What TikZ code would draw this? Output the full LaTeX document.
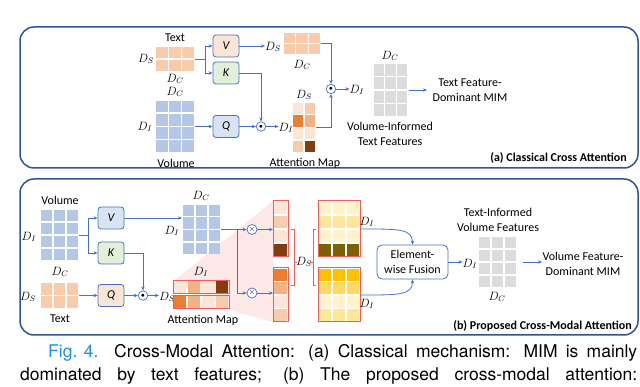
\documentclass[tikz,border=0pt]{standalone}
\usepackage{fontspec}
\setmainfont{Carlito}
\newfontfamily\capfont{TeX Gyre Heros}
\usetikzlibrary{arrows.meta,calc}
\definecolor{ablue}{HTML}{4472C4}
\definecolor{pnl}{HTML}{2F5597}
\definecolor{cor}{HTML}{F8CBAD}
\definecolor{cblu}{HTML}{B4C7E7}
\definecolor{cgry}{HTML}{DCDCDC}
\definecolor{co1}{HTML}{FBE5D6}
\definecolor{co2}{HTML}{F8CBAD}
\definecolor{co3}{HTML}{F4B183}
\definecolor{co4}{HTML}{ED7D31}
\definecolor{co5}{HTML}{843C0C}
\definecolor{cy1}{HTML}{FFF2CC}
\definecolor{cy2}{HTML}{FFE699}
\definecolor{cy3}{HTML}{FFD966}
\definecolor{cy4}{HTML}{FFC000}
\definecolor{cy5}{HTML}{7F6000}
\definecolor{bfill}{HTML}{DAE3F3}
\definecolor{gfill}{HTML}{E2F0D9}
\definecolor{ofill}{HTML}{FBE5D6}
\definecolor{rbd}{HTML}{F25C5C}
\definecolor{wedgec}{HTML}{FDE8E8}
\definecolor{figblue}{HTML}{1F8FE0}
% uniform grid: [opt]{name}{x0}{y0}{x1}{y1}{ncols}{nrows}{color}
\newcommand\unigrid[9][]{%
  \pgfmathsetmacro\cgw{(#5-#3)/#7}\pgfmathsetmacro\cgh{(#6-#4)/#8}%
  \foreach \ci in {1,...,#7}{\foreach \cj in {1,...,#8}{%
    \fill[#9] ({#3+(\ci-1)*\cgw+0.75},{#4+(\cj-1)*\cgh+0.75}) rectangle ({#3+\ci*\cgw-0.75},{#4+\cj*\cgh-0.75});}}%
  \node[inner sep=0,outer sep=0,minimum width={(#5-#3)*1pt},minimum height={(#6-#4)*1pt},#1] (#2) at ({(#3+#5)/2},{(#4+#6)/2}) {};%
}
% per-cell grid: [opt]{name}{x0}{y0}{x1}{y1}{ncols}{nrows}{colors row-major}
\newcommand\cellgrid[9][]{%
  \pgfmathsetmacro\cgw{(#5-#3)/#7}\pgfmathsetmacro\cgh{(#6-#4)/#8}%
  \foreach \cc [count=\k from 0] in {#9}{%
    \pgfmathtruncatemacro\ci{mod(\k,#7)}\pgfmathtruncatemacro\cj{div(\k,#7)}%
    \fill[\cc] ({#3+\ci*\cgw+0.75},{#4+\cj*\cgh+0.75}) rectangle ({#3+(\ci+1)*\cgw-0.75},{#4+(\cj+1)*\cgh-0.75});}%
  \node[inner sep=0,outer sep=0,minimum width={(#5-#3)*1pt},minimum height={(#6-#4)*1pt},#1] (#2) at ({(#3+#5)/2},{(#4+#6)/2}) {};%
}
\begin{document}
\begin{tikzpicture}[x=1pt,y=-1pt,
  arr/.style={-{Stealth[length=4pt,width=3.4pt]},draw=ablue,line width=0.8pt},
  ln/.style={draw=ablue,line width=0.8pt},
  qkv/.style={draw=ablue,rounded corners=3pt,line width=0.8pt,minimum width=26pt,minimum height=22pt,inner sep=0,font=\fontsize{12}{14}\selectfont\itshape},
  lab/.style={font=\fontsize{12}{15}\selectfont,inner sep=0,align=center},
  dl/.style={font=\fontsize{12}{14}\selectfont,inner sep=0},
  odot/.style={circle,draw=ablue,fill=white,line width=0.7pt,minimum size=9.5pt,inner sep=0,font=\fontsize{7}{7}\selectfont},
  omul/.style={circle,draw=ablue,fill=white,line width=0.7pt,minimum size=10pt,inner sep=0,font=\fontsize{8}{8}\selectfont},
  panel/.style={draw=pnl,line width=1.5pt,rounded corners=14pt},
  ptitle/.style={font=\fontsize{12}{14}\selectfont\bfseries,anchor=east,inner sep=0},
  brk/.style={draw=rbd,line width=0.6pt},
  redgrid/.style={draw=rbd,line width=1pt},
]
\useasboundingbox (0,0) rectangle (640,387);
\draw[panel] (20,27) rectangle (638,168);
\draw[panel] (20,179) rectangle (638,335);

%%%%% (a)
\unigrid{tA}{155}{46}{195}{72}{3}{2}{cor}
\unigrid{vA}{155}{100}{195}{153}{3}{4}{cblu}
\unigrid{voA}{283}{32}{321}{55}{3}{2}{cor}
\cellgrid{attA}{292}{102}{316}{153}{2}{4}{co1,co2,co4,co3,co1,co1,co2,co5}
\unigrid{gA}{373}{63}{408}{117}{3}{4}{cgry}

\node[lab] (txA) at (175,38) {Text};
\node[dl] (dsA) at (146,59) {$D_S$};
\node[dl] (dcA) at (175,79) {$D_C$};
\node[dl] (dcA2) at (175,92) {$D_C$};
\node[dl] (diA) at (145,127) {$D_I$};
\node[lab] (volA) at (176,163) {Volume};

\node[qkv,fill=ofill] (Va) at (226,46) {V};
\node[qkv,fill=gfill] (Ka) at (226,73) {K};
\node[qkv,fill=bfill] (Qa) at (226,126.5) {Q};

\coordinate (bA) at (205,59);
\draw[ln] (tA.east) -- (bA);
\draw[arr] (bA) |- (Va.west);
\draw[arr] (bA) |- (Ka.west);
\draw[arr] (vA.east) -- (Qa.west);

\node[dl] (dsA2) at (273,47) {$D_S$};
\draw[arr] (Va.east) -- (Va.east -| dsA2.west);
\node[dl] (dcA3) at (302,65) {$D_C$};

\node[odot] (m1A) at (261,126.5) {$\bullet$};
\draw[arr] (Ka.east) -| (m1A.north);
\draw[arr] (Qa.east) -- (m1A.west);
\node[dl] (diA2) at (286,128) {$D_I$};
\draw[arr] (m1A.east) -- (m1A.east -| diA2.west);
\node[dl] (dsA3) at (304,95) {$D_S$};
\node[lab] (amA) at (305,163) {Attention Map};

\node[odot] (m2A) at (331,89) {$\bullet$};
\draw[arr] (attA.east) -| (m2A.south);
\draw[arr] (voA.east) -| (m2A.north);
\node[dl] (diA3) at (357,90) {$D_I$};
\draw[arr] (m2A.east) -- (m2A.east -| diA3.west);
\node[dl] (dcA4) at (390,56) {$D_C$};
\node[lab] (vifA) at (390,134) {Volume-Informed\\Text Features};
\coordinate (oA) at (427,90);
\draw[arr] ([xshift=1pt]gA.east) -- (oA);
\node[lab] (tfA) at (470,90.5) {Text Feature-\\Dominant MIM};
\node[ptitle] (ttlA) at (627,158) {(a) Classical Cross Attention};

%%%%% (b)
\fill[wedgec] (174,281) -- (273,201) -- (273,322) -- (229,310) -- cycle;
\unigrid{vB}{40}{209}{79}{261}{3}{4}{cblu}
\unigrid{tB}{40}{282}{79}{309}{3}{2}{cor}
\node[lab] (volB) at (60,200) {Volume};
\node[dl] (diB) at (29,237) {$D_I$};
\node[dl] (dcB) at (60,272) {$D_C$};
\node[dl] (dsB) at (28,297) {$D_S$};
\node[lab] (txB) at (60,319) {Text};

\node[qkv,fill=bfill] (Vb) at (111,218) {V};
\node[qkv,fill=gfill] (Kb) at (111,253) {K};
\node[qkv,fill=ofill] (Qb) at (111,295.5) {Q};
\coordinate (bB) at (88,235);
\draw[ln] (vB.east) -- (bB);
\draw[arr] (bB) |- (Vb.west);
\draw[arr] (bB) |- (Kb.west);
\draw[arr] (tB.east) -- (Qb.west);

\unigrid{voB}{182}{204}{221}{255}{3}{4}{cblu}
\draw[arr] (Vb.east) -- (Vb.east -| voB.west);
\node[dl] (dcB2) at (201,196) {$D_C$};
\node[dl] (diB2) at (172,231) {$D_I$};

\node[odot] (m1B) at (143,295.5) {$\bullet$};
\draw[arr] (Kb.east) -| (m1B.north);
\draw[arr] (Qb.east) -- (m1B.west);
\node[dl] (dsB2) at (167,297) {$D_S$};
\draw[arr] (m1B.east) -- (m1B.east -| dsB2.west);

\cellgrid[redgrid]{attB1}{173}{280.5}{229}{293.5}{4}{1}{co1,co3,co1,co5}
\cellgrid[redgrid]{attB2}{173}{295.5}{229}{308.5}{4}{1}{co4,co3,co1,co2}
\node[dl] (diB3) at (201,272) {$D_I$};
\node[lab] (amB) at (203,320) {Attention Map};

\cellgrid[redgrid]{colT}{273}{201}{288}{257}{1}{4}{co1,co2,co1,co5}
\cellgrid[redgrid]{colB}{273}{268}{288}{322}{1}{4}{co4,co3,co1,co2}

\node[omul] (mulT) at (252,229.5) {$\times$};
\node[omul] (mulB) at (252,293) {$\times$};
\coordinate (bV) at (237,229.5);
\draw[arr] (voB.east) -- (mulT.west);
\draw[arr] (bV) |- (mulB.west);
\draw[arr] (mulT.east) -- (mulT.east -| colT.west);
\draw[arr] (mulB.east) -- (mulB.east -| colB.west);

\draw[brk] (291,229) -- (294,229) -- (294,285) -- (291,285);
\draw[brk] (294,262) -- (297,262);
\node[dl] (dsB3) at (304,262) {$D_S$};
\draw[brk] (316,229) -- (313,229) -- (313,285) -- (316,285);
\draw[brk] (313,262) -- (310,262);

\cellgrid[redgrid]{yT}{318}{201}{360}{257}{3}{4}{cy1,cy1,cy1,cy2,cy2,cy2,cy1,cy1,cy1,cy5,cy5,cy5}
\cellgrid[redgrid]{yB}{318}{268}{360}{322}{3}{4}{cy4,cy4,cy4,cy3,cy3,cy3,cy1,cy1,cy1,cy2,cy2,cy2}
\node[dl] (diB4) at (367,222) {$D_I$};
\node[dl] (diB5) at (367,304) {$D_I$};

\node[draw=ablue,line width=0.8pt,rounded corners=5pt,minimum width=71pt,minimum height=34pt,lab] (fu) at (412.5,262) {Element-\\wise Fusion};
\draw[arr] (yT.east) .. controls ($(yT.east)+(38,0)$) and ($(fu.north)+(0,-16)$) .. (fu.north);
\draw[arr] (yB.east) .. controls ($(yB.east)+(38,0)$) and ($(fu.south)+(0,16)$) .. (fu.south);

\node[dl] (diB6) at (470,264) {$D_I$};
\draw[arr] (fu.east) -- (fu.east -| diB6.west);
\unigrid{gB}{478}{236}{517}{288}{3}{4}{cgry}
\node[lab] (tivB) at (498,219.5) {Text-Informed\\Volume Features};
\node[dl] (dcB3) at (497,297) {$D_C$};
\coordinate (eB) at (542,262);
\draw[arr] ([xshift=6pt]gB.east) -- (eB);
\node[lab] (vfB) at (583,263.5) {Volume Feature-\\Dominant MIM};
\node[ptitle] (ttlB) at (632,326) {(b) Proposed Cross-Modal Attention};

%%%%% caption
\node[anchor=base west,inner sep=0,font=\capfont\fontsize{17.5}{20}\selectfont] (cap1) at (48,358) {\makebox[589pt][s]{\textcolor{figblue}{\mbox{Fig. 4.}}\hspace{0.9em}Cross-Modal Attention: (a) Classical mechanism: MIM is mainly}};
\node[anchor=base west,inner sep=0,font=\capfont\fontsize{17.5}{20}\selectfont] (cap2) at (20,380) {\makebox[617pt][s]{dominated by text features; (b) The proposed cross-modal attention:}};
\end{tikzpicture}
\end{document}
